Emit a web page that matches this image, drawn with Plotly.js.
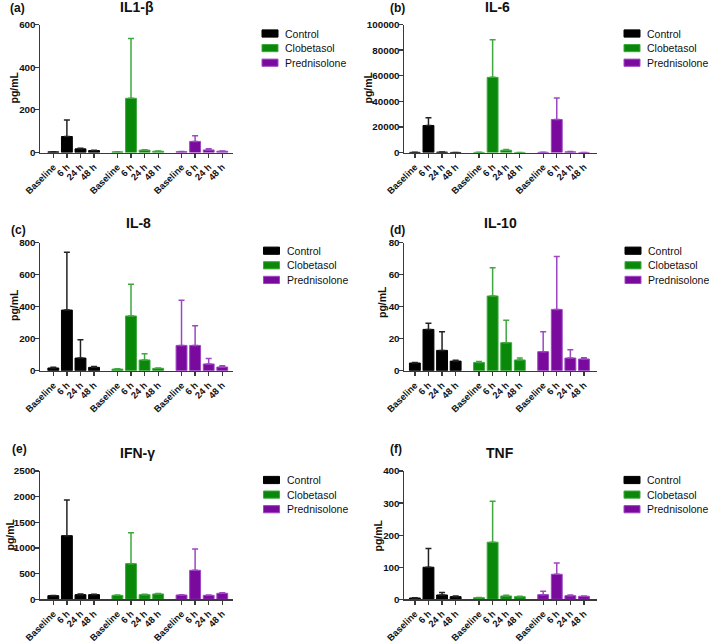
<!DOCTYPE html>
<html><head><meta charset="utf-8">
<script src="https://cdn.plot.ly/plotly-3.0.1.min.js"></script>
<style>html,body{margin:0;padding:0;background:#fff}#chart{width:709px;height:642px}</style>
</head><body><div id="chart"></div>
<script>
// ---- data ----
const timepoints = ["Baseline", "6 h", "24 h", "48 h"];
const groups = ["Control", "Clobetasol", "Prednisolone"];

// (a) IL1-beta, pg/mL : mean and SD (upper error)
const il1b_control = [3, 75, 17, 9];
const il1b_control_sd = [0.5, 77, 3, 2];
const il1b_clobetasol = [3, 254, 11, 6];
const il1b_clobetasol_sd = [0.5, 280, 1.5, 1];
const il1b_prednisolone = [4, 52, 12, 6];
const il1b_prednisolone_sd = [1, 26, 5, 1];

// (b) IL-6
const il6_control = [100, 21100, 300, 50];
const il6_control_sd = [50, 6100, 150, 20];
const il6_clobetasol = [100, 58700, 1800, 50];
const il6_clobetasol_sd = [50, 29300, 500, 20];
const il6_prednisolone = [150, 25800, 500, 50];
const il6_prednisolone_sd = [50, 16800, 200, 20];

// (c) IL-8
const il8_control = [17, 379, 79, 21];
const il8_control_sd = [4, 361, 115, 6];
const il8_clobetasol = [10, 342, 67, 15];
const il8_clobetasol_sd = [2, 198, 39, 2];
const il8_prednisolone = [158, 158, 42, 23];
const il8_prednisolone_sd = [282, 123, 35, 8];

// (d) IL-10
const il10_control = [4.8, 25.8, 12.7, 6.0];
const il10_control_sd = [0.4, 3.8, 11.7, 0.5];
const il10_clobetasol = [5.2, 46.7, 17.5, 6.7];
const il10_clobetasol_sd = [0.6, 17.7, 14.0, 1.2];
const il10_prednisolone = [11.9, 38.3, 7.9, 7.3];
const il10_prednisolone_sd = [12.5, 33.0, 5.2, 0.8];

// (e) IFN-gamma
const ifng_control = [71, 1240, 91, 91];
const ifng_control_sd = [5, 695, 13, 8];
const ifng_clobetasol = [78, 695, 91, 104];
const ifng_clobetasol_sd = [5, 604, 8, 10];
const ifng_prednisolone = [84, 565, 78, 117];
const ifng_prednisolone_sd = [5, 416, 6, 10];

// (f) TNF
const tnf_control = [4, 100, 13.5, 8.3];
const tnf_control_sd = [1, 58, 7.5, 2];
const tnf_clobetasol = [5, 178, 10.4, 8.3];
const tnf_clobetasol_sd = [1, 128, 2, 1];
const tnf_prednisolone = [14.5, 78, 11.4, 9.4];
const tnf_prednisolone_sd = [10.5, 35, 2, 1];

const panelTitles = ["IL1-β", "IL-6", "IL-8", "IL-10", "IFN-γ", "TNF"];
const panelLetters = ["(a)", "(b)", "(c)", "(d)", "(e)", "(f)"];
const yMax = [600, 100000, 800, 80, 2500, 400];
const yStep = [200, 20000, 200, 20, 500, 100];

// ---- styling ----
const W = 709, H = 642;
const px = x => x / W;
const py = y => 1 - y / H;
const FONT = "Liberation Sans, Arial, Helvetica, sans-serif";
const fills = ["#000000", "#0a880a", "#7a0a9e"];
const outlines = ["#000000", "#3fa83f", "#9d48c2"];
const errColors = ["#222222", "#3fa83f", "#9d48c2"];
const GROUP_STEP = 4.72;

const panelData = [
  [[il1b_control, il1b_control_sd], [il1b_clobetasol, il1b_clobetasol_sd], [il1b_prednisolone, il1b_prednisolone_sd]],
  [[il6_control, il6_control_sd], [il6_clobetasol, il6_clobetasol_sd], [il6_prednisolone, il6_prednisolone_sd]],
  [[il8_control, il8_control_sd], [il8_clobetasol, il8_clobetasol_sd], [il8_prednisolone, il8_prednisolone_sd]],
  [[il10_control, il10_control_sd], [il10_clobetasol, il10_clobetasol_sd], [il10_prednisolone, il10_prednisolone_sd]],
  [[ifng_control, ifng_control_sd], [ifng_clobetasol, ifng_clobetasol_sd], [ifng_prednisolone, ifng_prednisolone_sd]],
  [[tnf_control, tnf_control_sd], [tnf_clobetasol, tnf_clobetasol_sd], [tnf_prednisolone, tnf_prednisolone_sd]]
];

// layout geometry (pixels)
const colX = [[40, 233], [404, 597]];
const rowY = [[24.5, 152.5], [242.7, 370.7], [471, 599.3]];
const xRanges = [[-0.98, 13.23], [-0.8, 13.4]];
const titlePos = [[137, 7], [497, 7], [138, 223], [500, 223], [137, 453], [500, 453]];
const letterPos = [[17, 8], [397, 8], [18, 230], [397, 230], [19, 449], [396, 449]];
const ylabPos = [[13.5, 88], [367.5, 88], [14, 305], [382, 302], [9.5, 535], [377.5, 535]];
const legendPos = [[262, 33.5], [624, 33.5], [263.5, 250.7], [625, 250.7], [263.5, 480], [624, 480]];

const traces = [];
const layout = {
  width: W, height: H,
  margin: {l: 0, r: 0, t: 0, b: 0},
  paper_bgcolor: "#fff", plot_bgcolor: "#fff",
  showlegend: false,
  font: {family: FONT, color: "#111"},
  bargap: 0,
  annotations: [], shapes: []
};

const tickvals = [], ticktext = [];
for (let g = 0; g < groups.length; g++) {
  for (let i = 0; i < timepoints.length; i++) {
    tickvals.push(g * GROUP_STEP + i);
    ticktext.push(timepoints[i]);
  }
}

for (let p = 0; p < 6; p++) {
  const col = p % 2, row = Math.floor(p / 2);
  const suf = p === 0 ? "" : String(p + 1);
  const xa = "x" + suf, ya = "y" + suf;
  for (let g = 0; g < groups.length; g++) {
    const [vals, sds] = panelData[p][g];
    traces.push({
      type: "bar",
      name: groups[g],
      x: timepoints.map((t, i) => g * GROUP_STEP + i),
      y: vals,
      width: 0.8,
      xaxis: xa, yaxis: ya,
      marker: {color: fills[g], line: {color: outlines[g], width: 1}},
      error_y: {type: "data", symmetric: false, array: sds, arrayminus: sds.map(() => 0),
                color: errColors[g], thickness: 1.5, width: 3},
      hoverinfo: "y"
    });
  }
  const xd = colX[col], yd = rowY[row];
  layout["xaxis" + suf] = {
    domain: [px(xd[0]), px(xd[1])], anchor: ya, range: xRanges[col],
    showgrid: false, zeroline: false, showline: true, linecolor: "#3a3a3a", linewidth: 1.5,
    ticks: "outside", ticklen: 4, tickwidth: 1.3, tickcolor: "#3a3a3a",
    tickmode: "array", tickvals: tickvals, ticktext: ticktext, tickangle: -45,
    tickfont: {family: FONT, size: 9.3, color: "#111", weight: "bold"}, fixedrange: true
  };
  layout["yaxis" + suf] = {
    domain: [py(yd[1]), py(yd[0])], anchor: xa, range: [0, yMax[p]],
    showgrid: false, zeroline: false, showline: true, linecolor: "#3a3a3a", linewidth: 1.5,
    ticks: "outside", ticklen: 4, tickwidth: 1.3, tickcolor: "#3a3a3a",
    tickmode: "linear", tick0: 0, dtick: yStep[p], tickformat: "d", ticklabelstandoff: -3,
    tickfont: {family: FONT, size: 9.8, color: "#111", weight: "bold"}, fixedrange: true
  };
  layout.annotations.push({
    xref: "paper", yref: "paper", x: px(titlePos[p][0]), y: py(titlePos[p][1]),
    xanchor: "center", yanchor: "middle", showarrow: false, text: "<b>" + panelTitles[p] + "</b>",
    font: {family: FONT, size: 14, color: "#111"}
  });
  layout.annotations.push({
    xref: "paper", yref: "paper", x: px(letterPos[p][0]), y: py(letterPos[p][1]),
    xanchor: "center", yanchor: "middle", showarrow: false, text: "<b>" + panelLetters[p] + "</b>",
    font: {family: FONT, size: 12, color: "#111"}
  });
  layout.annotations.push({
    xref: "paper", yref: "paper", x: px(ylabPos[p][0]), y: py(ylabPos[p][1]),
    xanchor: "center", yanchor: "middle", showarrow: false, textangle: -90, text: "<b>pg/mL</b>",
    font: {family: FONT, size: 10.5, color: "#111"}
  });
  // legend
  for (let g = 0; g < groups.length; g++) {
    const lx = legendPos[p][0], ly = legendPos[p][1] + g * 14.6;
    layout.shapes.push({
      type: "rect", xref: "paper", yref: "paper",
      x0: px(lx), x1: px(lx + 16), y0: py(ly + 3.6), y1: py(ly - 3.6),
      fillcolor: fills[g], line: {color: outlines[g], width: 1}
    });
    layout.annotations.push({
      xref: "paper", yref: "paper", x: px(lx + 21), y: py(ly),
      xanchor: "left", yanchor: "middle", showarrow: false, text: groups[g],
      font: {family: FONT, size: 10.5, color: "#111"}
    });
  }
}

Plotly.newPlot("chart", traces, layout, {staticPlot: true, displayModeBar: false});
</script>
</body></html>
